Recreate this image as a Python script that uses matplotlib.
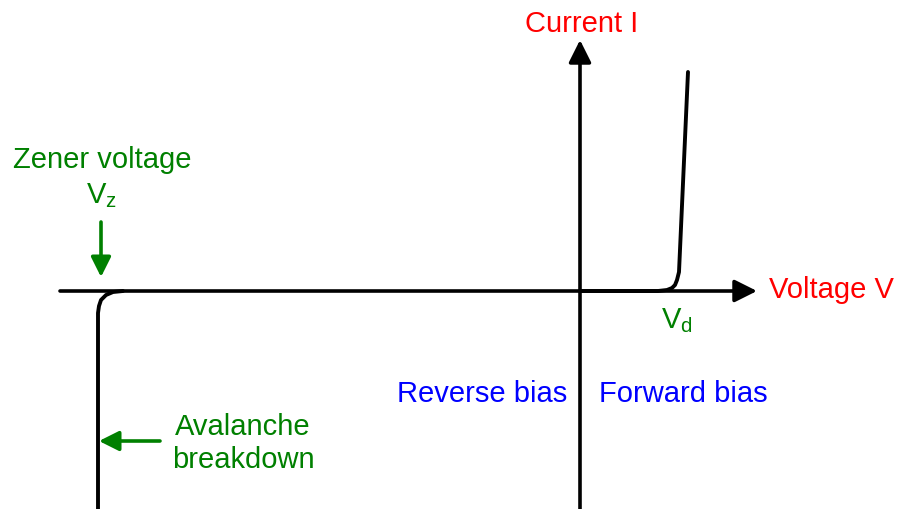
import matplotlib
matplotlib.use("Agg")
import matplotlib.pyplot as plt

plt.rcParams['font.family'] = ['Liberation Sans', 'DejaVu Sans']
plt.rcParams['mathtext.fontset'] = 'custom'
plt.rcParams['mathtext.rm'] = 'Liberation Sans'
plt.rcParams['mathtext.it'] = 'Liberation Sans'
plt.rcParams['mathtext.default'] = 'regular'

# diode I-V characteristic, arbitrary units (origin where the axes cross)
fwd_v = [0, 78, 87, 92, 95, 97, 99, 108]
fwd_i = [0, 0, 1, 3, 6, 11, 19, 219]
rev_v = [-457, -467, -474, -479, -481, -482, -482]
rev_i = [0, -1, -4, -9, -15, -22, -240]

# axis extents
v_axis = (-520, 177)
i_axis = (-240, 251)

green = '#008000'
fs = 21

fig = plt.figure(figsize=(8.99, 5.09), dpi=100)
ax = fig.add_axes([0, 0, 1, 1])
ax.set_xlim(-580, 319)
ax.set_ylim(-218, 291)
ax.axis('off')

axis_arrow = dict(arrowstyle='-|>', color='black', lw=2.6,
                  mutation_scale=34, shrinkA=0, shrinkB=0)
ax.annotate('', xy=(v_axis[1], 0), xytext=(v_axis[0], 0), arrowprops=axis_arrow)
ax.annotate('', xy=(0, i_axis[1]), xytext=(0, i_axis[0]), arrowprops=axis_arrow)

ax.plot(fwd_v, fwd_i, color='black', lw=2.8, solid_joinstyle='round', solid_capstyle='round')
ax.plot(rev_v, rev_i, color='black', lw=2.8, solid_joinstyle='round', solid_capstyle='round')

ax.text(2, 259, 'Current I', color='red', fontsize=fs, ha='center', va='baseline')
ax.text(189, -7, 'Voltage V', color='red', fontsize=fs, ha='left', va='baseline')
ax.text(-478, 123, 'Zener voltage', color=green, fontsize=fs, ha='center', va='baseline')
ax.text(-479, 88, 'V$_z$', color=green, fontsize=fs, ha='center', va='baseline')
ax.text(97, -37, 'V$_d$', color=green, fontsize=fs, ha='center', va='baseline')
ax.text(-13, -111, 'Reverse bias', color='blue', fontsize=fs, ha='right', va='baseline')
ax.text(19, -111, 'Forward bias', color='blue', fontsize=fs, ha='left', va='baseline')
ax.text(-337, -144, 'Avalanche', color=green, fontsize=fs, ha='center', va='baseline')
ax.text(-337, -177, 'breakdown', color=green, fontsize=fs, ha='center', va='baseline')

green_arrow = dict(arrowstyle='-|>,head_length=0.6,head_width=0.3', color=green, lw=2.6,
                   mutation_scale=20, shrinkA=0, shrinkB=0)
ax.annotate('', xy=(-479, 14), xytext=(-479, 69), arrowprops=green_arrow)
ax.annotate('', xy=(-481, -150), xytext=(-420, -150), arrowprops=green_arrow)

fig.savefig('out.png', dpi=100)
